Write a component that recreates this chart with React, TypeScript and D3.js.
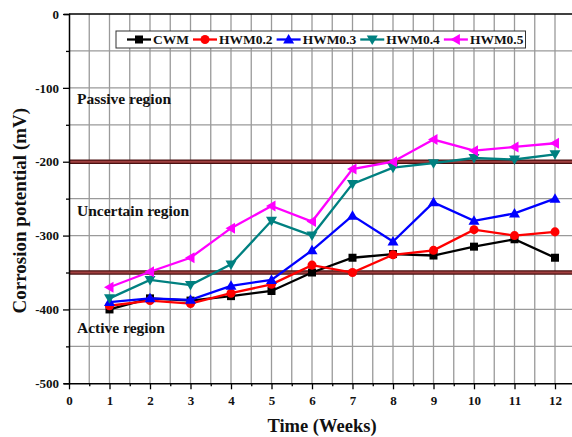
import { useEffect, useRef } from 'react';
import * as d3 from 'd3';

const weeks = [1, 2, 3, 4, 5, 6, 7, 8, 9, 10, 11, 12];
const seriesNames = ['CWM', 'HWM0.2', 'HWM0.3', 'HWM0.4', 'HWM0.5'];
const cwm = [-400, -385, -388, -382, -375, -350, -330, -325, -327, -315, -305, -330];
const hwm02 = [-395, -388, -392, -378, -366, -340, -350, -326, -320, -292, -300, -295];
const hwm03 = [-390, -385, -387, -368, -360, -320, -273, -308, -255, -280, -270, -250];
const hwm04 = [-385, -360, -367, -339, -280, -300, -230, -208, -202, -195, -197, -190];
const hwm05 = [-370, -349, -330, -290, -260, -281, -210, -200, -170, -185, -180, -175];
const regionLines = [-200, -350];
const regionLabels = [
  { text: 'Passive region', value: -122 },
  { text: 'Uncertain region', value: -274 },
  { text: 'Active region', value: -432 },
];
const yTicks = [0, -100, -200, -300, -400, -500];
const xTicks = [0, 1, 2, 3, 4, 5, 6, 7, 8, 9, 10, 11, 12];

const colors = ['#000000', '#ff0000', '#0000ff', '#008080', '#ff00ff'];
const shapes = ['square', 'circle', 'up', 'down', 'left'];
const FONT = '"Liberation Serif", "Times New Roman", serif';

function markerPath(shape: string): string {
  switch (shape) {
    case 'square':
      return 'M-4,-4H4V4H-4Z';
    case 'circle':
      return d3.symbol(d3.symbolCircle, 64)() as string;
    case 'up':
      return 'M0,-5.5L5.5,4L-5.5,4Z';
    case 'down':
      return 'M0,5.5L5.5,-4L-5.5,-4Z';
    default:
      return 'M-5.5,0L4,-5.5L4,5.5Z';
  }
}

export default function App() {
  const svgRef = useRef<SVGSVGElement>(null);
  const width = 572;
  const height = 437;

  useEffect(() => {
    if (!svgRef.current) return;
    const svg = d3.select(svgRef.current);
    svg.selectAll('*').remove();

    const x = d3.scaleLinear().domain([0, 12]).range([69, 555]);
    const y = d3.scaleLinear().domain([0, -500]).range([14, 383.3]);
    const xEnd = x(12.5);

    const series = [cwm, hwm02, hwm03, hwm04, hwm05];

    // grid
    const grid = svg.append('g');
    grid.selectAll('.vg')
      .data(d3.range(1, 26).map(d => d * 0.5))
      .enter()
      .append('line')
      .attr('x1', d => x(d)).attr('x2', d => x(d))
      .attr('y1', y(0)).attr('y2', y(-500))
      .attr('stroke', '#9a9a9a').attr('stroke-width', 1.3);
    grid.selectAll('.hg')
      .data(d3.range(1, 10).map(d => -d * 50))
      .enter()
      .append('line')
      .attr('x1', x(0)).attr('x2', xEnd)
      .attr('y1', d => y(d)).attr('y2', d => y(d))
      .attr('stroke', '#9a9a9a').attr('stroke-width', 1.3);

    // region boundaries
    regionLines.forEach(v => {
      svg.append('line')
        .attr('x1', x(0)).attr('x2', xEnd)
        .attr('y1', y(v)).attr('y2', y(v))
        .attr('stroke', '#4a1010').attr('stroke-width', 4.5);
      svg.append('line')
        .attr('x1', x(0)).attr('x2', xEnd)
        .attr('y1', y(v)).attr('y2', y(v))
        .attr('stroke', '#a04040').attr('stroke-width', 2);
    });

    // region labels
    regionLabels.forEach(r => {
      svg.append('text')
        .attr('x', 77)
        .attr('y', y(r.value))
        .attr('font-family', FONT)
        .attr('font-weight', 'bold')
        .attr('font-size', '15.5px')
        .attr('fill', '#111')
        .text(r.text);
    });

    // series
    const line = d3.line<number>()
      .x((d, i) => x(weeks[i]))
      .y(d => y(d));

    series.forEach((vals, si) => {
      svg.append('path')
        .datum(vals)
        .attr('d', line)
        .attr('fill', 'none')
        .attr('stroke', colors[si])
        .attr('stroke-width', 2.3);
      svg.selectAll(`.m${si}`)
        .data(vals)
        .enter()
        .append('path')
        .attr('transform', (d, i) => `translate(${x(weeks[i])},${y(d)})`)
        .attr('d', markerPath(shapes[si]))
        .attr('fill', colors[si]);
    });

    // axes frame
    const axisColor = '#000';
    svg.append('line')
      .attr('x1', x(0)).attr('x2', xEnd)
      .attr('y1', y(0)).attr('y2', y(0))
      .attr('stroke', axisColor).attr('stroke-width', 1.5);

    const yAxis = d3.axisLeft(y)
      .tickValues(d3.range(0, 11).map(d => -d * 50))
      .tickSize(5)
      .tickFormat(d => (yTicks.includes(d as number) ? String(d) : ''));
    const gy = svg.append('g')
      .attr('transform', `translate(${x(0)},0)`)
      .call(yAxis);
    gy.select('.domain').attr('stroke-width', 1.5);
    gy.selectAll('.tick line')
      .attr('x2', (d: any) => (yTicks.includes(d) ? -6 : -3))
      .attr('stroke-width', 1.3);
    gy.selectAll('.tick text')
      .attr('font-family', FONT)
      .attr('font-weight', 'bold')
      .attr('font-size', '13px')
      .attr('x', -10)
      .attr('fill', '#111');

    const xAxis = d3.axisBottom(x)
      .tickValues(d3.range(0, 26).map(d => d * 0.5))
      .tickSize(5)
      .tickSizeOuter(0)
      .tickFormat(d => (xTicks.includes(d as number) ? String(d) : ''));
    const xScaleExt = d3.scaleLinear().domain([0, 12.5]).range([x(0), xEnd]);
    const gx = svg.append('g')
      .attr('transform', `translate(0,${y(-500)})`)
      .call(xAxis.scale(xScaleExt));
    gx.select('.domain').attr('stroke-width', 1.5);
    gx.selectAll('.tick line')
      .attr('y2', (d: any) => (Number.isInteger(d) ? 6 : 3))
      .attr('stroke-width', 1.3);
    gx.selectAll('.tick text')
      .attr('font-family', FONT)
      .attr('font-weight', 'bold')
      .attr('font-size', '13px')
      .attr('y', 12)
      .attr('fill', '#111');

    // axis titles
    svg.append('text')
      .attr('transform', `translate(26,${(y(0) + y(-500)) / 2 + 12}) rotate(-90)`)
      .attr('text-anchor', 'middle')
      .attr('font-family', FONT)
      .attr('font-weight', 'bold')
      .attr('font-size', '19px')
      .attr('fill', '#111')
      .text('Corrosion potential (mV)');
    svg.append('text')
      .attr('x', 322)
      .attr('y', 432)
      .attr('text-anchor', 'middle')
      .attr('font-family', FONT)
      .attr('font-weight', 'bold')
      .attr('font-size', '18.5px')
      .attr('fill', '#111')
      .text('Time (Weeks)');

    // legend
    const legend = svg.append('g');
    const box = legend.append('rect')
      .attr('x', 116).attr('y', 31)
      .attr('height', 17)
      .attr('fill', 'white')
      .attr('stroke', '#333')
      .attr('stroke-width', 1);
    let cx = 127;
    seriesNames.forEach((name, si) => {
      legend.append('line')
        .attr('x1', cx).attr('x2', cx + 24)
        .attr('y1', 39.5).attr('y2', 39.5)
        .attr('stroke', colors[si]).attr('stroke-width', 2.3);
      legend.append('path')
        .attr('transform', `translate(${cx + 12},39.5)`)
        .attr('d', markerPath(shapes[si]))
        .attr('fill', colors[si]);
      const t = legend.append('text')
        .attr('x', cx + 26)
        .attr('y', 44)
        .attr('font-family', FONT)
        .attr('font-weight', 'bold')
        .attr('font-size', '13.5px')
        .attr('fill', '#111')
        .text(name);
      const w = (t.node() as SVGTextElement).getComputedTextLength();
      cx = cx + 26 + w + 4;
    });
    box.attr('width', cx - 116 - 2);
  }, []);

  return (
    <svg
      ref={svgRef}
      width={width}
      height={height}
      style={{ display: 'block', position: 'absolute', left: 0, top: 0, background: 'white' }}
    />
  );
}
